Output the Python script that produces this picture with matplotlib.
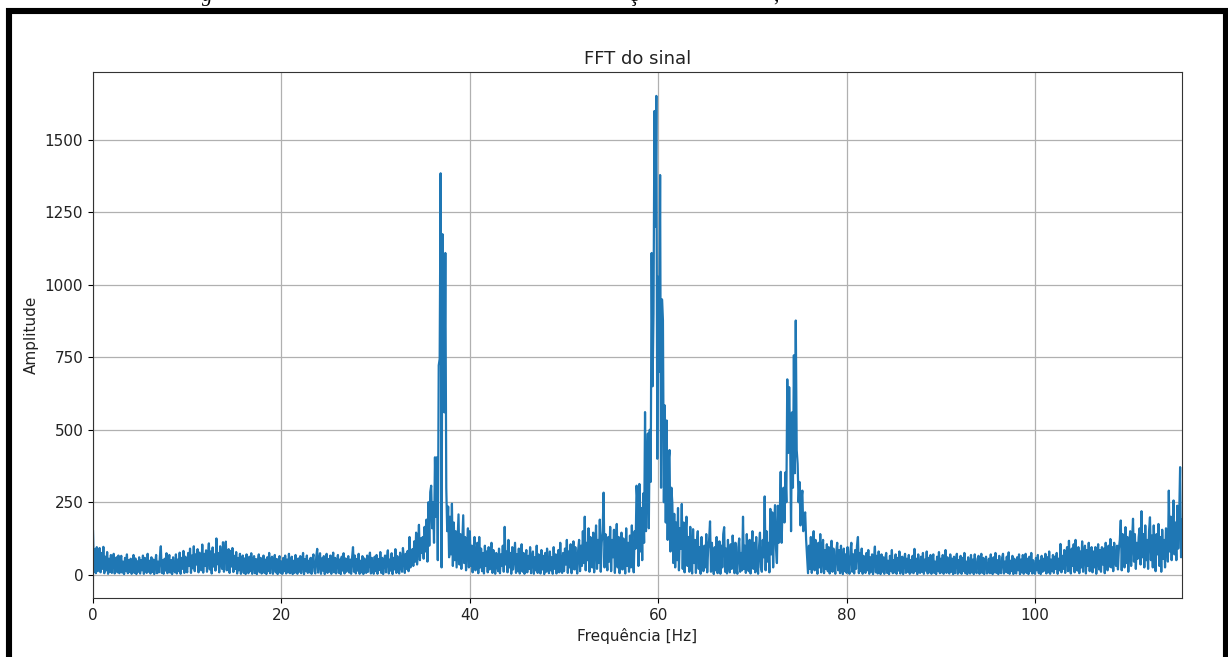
import numpy as np
import matplotlib
matplotlib.use("Agg")
import matplotlib.pyplot as plt
from matplotlib.patches import Rectangle

# ---------------- data (amplitude read every 0.1 Hz) ----------------
freq_start = 0.0
freq_step = 0.1

amp_00_10 = [
    150, 10, 88, 5, 95, 12, 70, 92, 8, 75,
    20, 96, 5, 62, 15, 78, 3, 55, 10, 68,
    6, 50, 72, 4, 42, 60, 8, 66, 5, 48,
    65, 7, 45, 2, 58, 12, 70, 5, 50, 9,
    55, 3, 40, 68, 6, 56, 2, 46, 10, 60,
    4, 50, 15, 66, 3, 58, 20, 6, 72, 10,
    48, 4, 60, 9, 52, 2, 40, 68, 5, 45,
    8, 62, 98, 6, 50, 3, 55, 14, 74, 5,
    42, 68, 7, 50, 2, 60, 18, 8, 70, 4,
    52, 12, 76, 3, 58, 20, 82, 6, 62, 25,
]
amp_10_20 = [
    8, 75, 30, 90, 6, 66, 22, 98, 12, 70,
    35, 88, 8, 76, 40, 15, 104, 7, 72, 30,
    84, 10, 66, 108, 18, 80, 4, 94, 28, 70,
    14, 125, 36, 74, 8, 98, 40, 20, 112, 10,
    76, 114, 15, 70, 88, 6, 82, 28, 92, 9,
    65, 20, 78, 4, 58, 15, 72, 3, 52, 66,
    6, 56, 2, 70, 18, 5, 62, 12, 74, 3,
    48, 64, 5, 54, 2, 45, 70, 8, 58, 4,
    16, 66, 6, 52, 2, 60, 12, 75, 5, 48,
    62, 3, 44, 68, 8, 54, 2, 50, 64, 6,
]
amp_20_30 = [
    46, 3, 58, 12, 66, 4, 52, 8, 72, 5,
    15, 62, 2, 48, 6, 68, 18, 3, 56, 10,
    64, 5, 45, 75, 2, 54, 12, 66, 6, 48,
    8, 58, 3, 52, 70, 12, 4, 62, 89, 7,
    48, 74, 3, 56, 14, 64, 2, 46, 72, 6,
    54, 10, 66, 3, 48, 76, 8, 58, 4, 44,
    68, 6, 52, 2, 62, 14, 74, 4, 56, 10,
    45, 64, 7, 52, 3, 58, 95, 10, 66, 4,
    54, 14, 72, 3, 48, 8, 64, 2, 56, 16,
    6, 66, 10, 52, 76, 4, 58, 16, 3, 62,
]
amp_30_40 = [
    12, 68, 3, 54, 16, 78, 6, 58, 2, 48,
    66, 8, 56, 84, 4, 52, 14, 74, 2, 58,
    18, 88, 6, 64, 22, 4, 76, 30, 10, 92,
    58, 6, 72, 20, 82, 12, 130, 25, 64, 88,
    30, 115, 45, 145, 35, 95, 172, 50, 125, 75,
    130, 55, 165, 80, 190, 45, 250, 100, 285, 307,
    160, 250, 110, 405, 200, 405, 50, 722, 745, 1385,
    25, 1175, 820, 560, 1110, 300, 150, 235, 60, 200,
    70, 245, 30, 180, 50, 150, 25, 120, 208, 35,
    140, 20, 110, 205, 40, 130, 15, 95, 160, 25,
]
amp_40_50 = [
    150, 30, 100, 8, 85, 130, 15, 70, 110, 5,
    130, 25, 90, 12, 75, 4, 100, 30, 80, 8,
    95, 18, 70, 110, 6, 85, 25, 3, 75, 35,
    12, 90, 5, 70, 30, 100, 10, 165, 35, 80,
    8, 120, 25, 75, 3, 95, 18, 65, 110, 6,
    70, 12, 90, 4, 60, 105, 10, 75, 3, 55,
    85, 8, 65, 20, 95, 5, 50, 80, 3, 60,
    15, 100, 6, 70, 30, 4, 85, 18, 65, 2,
    75, 10, 90, 25, 5, 80, 15, 60, 3, 95,
    20, 70, 4, 55, 85, 8, 110, 25, 6, 75,
]
amp_50_60 = [
    12, 90, 35, 120, 6, 80, 25, 105, 5, 70,
    115, 18, 95, 35, 4, 85, 120, 12, 100, 30,
    150, 40, 200, 15, 110, 50, 160, 10, 130, 60,
    25, 145, 8, 100, 170, 20, 120, 40, 190, 10,
    110, 150, 283, 25, 140, 60, 15, 130, 45, 165,
    12, 120, 60, 155, 6, 110, 175, 25, 130, 5,
    100, 145, 18, 125, 45, 4, 160, 30, 110, 10,
    135, 25, 170, 55, 8, 150, 90, 307, 249, 30,
    313, 80, 230, 50, 280, 110, 561, 150, 350, 487,
    160, 500, 320, 1110, 650, 900, 1600, 1200, 1652, 400,
]
amp_60_70 = [
    1028, 700, 1379, 300, 950, 878, 250, 584, 180, 532,
    120, 394, 430, 80, 300, 245, 40, 210, 25, 180,
    50, 230, 15, 160, 90, 244, 20, 180, 8, 140,
    200, 30, 130, 10, 165, 60, 4, 157, 40, 120,
    6, 110, 150, 20, 95, 3, 130, 40, 12, 100,
    25, 140, 8, 90, 120, 184, 10, 110, 35, 2,
    95, 15, 130, 5, 80, 115, 3, 100, 25, 140,
    164, 10, 90, 4, 120, 35, 8, 105, 20, 135,
    80, 5, 110, 25, 3, 95, 125, 10, 75, 15,
    200, 20, 100, 6, 140, 50, 12, 120, 4, 90,
]
amp_70_80 = [
    150, 20, 110, 8, 130, 40, 3, 95, 145, 25,
    10, 120, 60, 270, 15, 150, 45, 110, 8, 227,
    70, 215, 25, 170, 240, 90, 40, 238, 110, 200,
    355, 110, 240, 300, 180, 353, 250, 674, 420, 647,
    480, 150, 560, 300, 757, 350, 877, 430, 382, 250,
    320, 170, 260, 290, 150, 200, 215, 120, 60, 5,
    100, 20, 130, 6, 95, 150, 15, 120, 40, 3,
    110, 25, 140, 8, 90, 120, 5, 85, 20, 105,
    12, 95, 4, 75, 117, 10, 90, 25, 3, 80,
    110, 15, 85, 5, 100, 30, 2, 90, 12, 70,
]
amp_80_90 = [
    6, 95, 25, 3, 80, 110, 10, 70, 4, 85,
    20, 100, 130, 5, 75, 12, 90, 3, 65, 18,
    6, 75, 15, 85, 3, 60, 10, 70, 2, 55,
    97, 8, 65, 4, 80, 18, 2, 70, 10, 60,
    3, 55, 75, 6, 48, 2, 65, 12, 85, 5,
    50, 8, 70, 3, 58, 14, 80, 4, 45, 62,
    2, 48, 72, 6, 55, 10, 68, 3, 50, 8,
    65, 5, 89, 12, 55, 2, 70, 15, 6, 62,
    10, 75, 3, 52, 14, 80, 4, 58, 8, 68,
    3, 50, 70, 6, 45, 2, 62, 12, 78, 5,
]
amp_90_100 = [
    55, 8, 68, 3, 48, 85, 6, 60, 14, 4,
    70, 10, 55, 2, 62, 5, 48, 72, 3, 50,
    8, 65, 3, 58, 12, 75, 5, 45, 2, 60,
    14, 4, 68, 8, 52, 2, 70, 12, 5, 55,
    65, 3, 48, 72, 6, 58, 2, 45, 62, 4,
    10, 55, 5, 70, 14, 2, 60, 8, 75, 6,
    50, 2, 65, 12, 5, 58, 72, 4, 45, 10,
    62, 6, 77, 3, 48, 12, 65, 2, 55, 14,
    4, 60, 15, 70, 2, 52, 8, 68, 3, 48,
    72, 6, 55, 2, 62, 12, 75, 4, 50, 8,
]
amp_100_110 = [
    3, 58, 15, 68, 5, 48, 2, 65, 10, 55,
    14, 72, 4, 60, 8, 80, 3, 52, 12, 68,
    6, 62, 20, 75, 3, 55, 15, 106, 8, 65,
    20, 85, 6, 70, 95, 12, 117, 25, 4, 90,
    30, 105, 8, 120, 40, 14, 95, 5, 80, 25,
    115, 10, 75, 100, 4, 85, 30, 110, 12, 70,
    95, 8, 80, 25, 95, 3, 70, 105, 18, 85,
    10, 95, 35, 90, 5, 110, 40, 15, 100, 28,
    123, 25, 95, 12, 110, 45, 30, 100, 18, 90,
    120, 187, 15, 140, 55, 25, 164, 40, 130, 10,
]
amp_110_end = [
    110, 150, 30, 120, 193, 45, 140, 20, 110, 55,
    130, 160, 35, 219, 60, 140, 25, 170, 50, 120,
    20, 150, 198, 50, 135, 25, 170, 60, 12, 140,
    70, 175, 30, 130, 10, 155, 55, 120, 25, 160,
    130, 45, 290, 80, 200, 50, 160, 256, 70, 180,
    50, 238, 90, 200, 371, 60, 190,
]

x_max = 115.6
y_ticks = [0, 250, 500, 750, 1000, 1250, 1500]
x_ticks = [0, 20, 40, 60, 80, 100]
title = "FFT do sinal"
x_label = "Frequência [Hz]"
y_label = "Amplitude"

amplitude = np.array(amp_00_10 + amp_10_20 + amp_20_30 + amp_30_40 + amp_40_50
                     + amp_50_60 + amp_60_70 + amp_70_80 + amp_80_90
                     + amp_90_100 + amp_100_110 + amp_110_end, dtype=float)
freq = freq_start + freq_step * np.arange(len(amplitude))

# ---------------- figure ----------------
W, H = 1228, 657
fig = plt.figure(figsize=(W / 100, H / 100), dpi=100)
fig.patch.set_facecolor("white")

ax = fig.add_axes([93 / W, 1 - 598 / H, (1182 - 93) / W, (598 - 72) / H])
ax.plot(freq, amplitude, color="#1f77b4", linewidth=1.6)
ax.set_xlim(0, x_max)
ax.set_xticks(x_ticks)
ax.set_yticks(y_ticks)
ax.grid(True, color="#b0b0b0", linewidth=0.9)
ax.set_axisbelow(True)
ax.set_title(title, fontsize=13, color="#222222")
ax.set_xlabel(x_label, fontsize=11, color="#222222")
ax.set_ylabel(y_label, fontsize=11, color="#222222")
ax.tick_params(labelsize=11, labelcolor="#222222")
for s in ax.spines.values():
    s.set_color("#333333")

# document frame around the chart
fig.add_artist(Rectangle((9 / W, 1 - 680 / H), (1226 - 9) / W, (680 - 11) / H,
                         transform=fig.transFigure, fill=False,
                         edgecolor="black", linewidth=4.4))

# cut-off caption line above the frame (only descenders visible)
for ch, xp in [("g", 207), ("ç", 633), (",", 776)]:
    fig.text(xp / W, 1 - 1 / H, ch, fontsize=15, family="Liberation Serif",
             va="baseline", ha="center", style="italic" if ch == "g" else "normal")

fig.savefig("out.png", dpi=100)
